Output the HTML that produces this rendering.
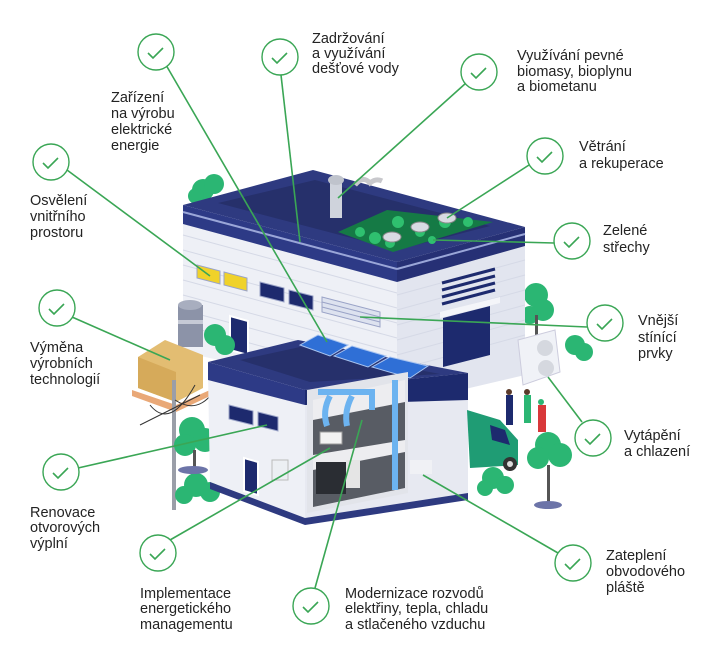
<!DOCTYPE html>
<html><head><meta charset="utf-8"><style>
html,body{margin:0;padding:0;background:#fff;}
svg{display:block;}
text{font-family:"Liberation Sans",sans-serif;font-size:14.5px;fill:#232323;}
</style></head><body>
<svg width="718" height="661" viewBox="0 0 718 661" xmlns="http://www.w3.org/2000/svg">
<g fill="#2bb673">
<circle cx="203" cy="190" r="11"/><circle cx="214" cy="184" r="10"/><circle cx="196" cy="196" r="8"/>
<circle cx="536" cy="295" r="12"/><circle cx="543" cy="310" r="11"/><circle cx="530" cy="315" r="9"/>
<circle cx="575" cy="345" r="10"/><circle cx="584" cy="352" r="9"/>
</g>
<rect x="535" y="315" width="3" height="20" fill="#555"/>
<polygon points="183,222 397,280 397,400 183,352" fill="#eef0f6"/>
<polygon points="397,280 525,245 525,375 397,405" fill="#e2e5ef"/>
<g stroke="#d5d9e6" stroke-width="1">
<line x1="183" y1="235" x2="397" y2="293"/><line x1="183" y1="250" x2="397" y2="308"/><line x1="183" y1="265" x2="397" y2="323"/><line x1="183" y1="280" x2="397" y2="338"/><line x1="183" y1="295" x2="397" y2="353"/><line x1="183" y1="310" x2="397" y2="368"/><line x1="183" y1="325" x2="397" y2="383"/>
<line x1="397" y1="295" x2="525" y2="260"/><line x1="397" y1="310" x2="525" y2="275"/><line x1="397" y1="325" x2="525" y2="290"/><line x1="397" y1="340" x2="525" y2="305"/><line x1="397" y1="355" x2="525" y2="320"/><line x1="397" y1="370" x2="525" y2="335"/>
</g>
<polygon points="183,205 313,170 525,227 397,262" fill="#2e3a80"/>
<polygon points="218,203 315,180 490,226 397,250" fill="#26306b"/>
<polygon points="183,205 397,262 397,282 183,224" fill="#2d3a86"/>
<polygon points="397,262 525,227 525,246 397,282" fill="#263075"/>
<line x1="183" y1="212" x2="397" y2="269" stroke="#9aa6d8" stroke-width="2"/>
<line x1="397" y1="269" x2="525" y2="234" stroke="#9aa6d8" stroke-width="2"/>
<polygon points="338,232 387,210 493,222 393,252" fill="#157a45"/>
<g fill="#2fc06f"><circle cx="360" cy="232" r="5"/><circle cx="375" cy="238" r="6"/><circle cx="398" cy="222" r="6"/><circle cx="420" cy="232" r="5"/><circle cx="445" cy="222" r="6"/><circle cx="468" cy="222" r="5"/><circle cx="390" cy="243" r="5"/><circle cx="432" cy="240" r="4"/></g>
<g fill="#d8dbe2" stroke="#888" stroke-width="1"><ellipse cx="392" cy="237" rx="9" ry="5"/><ellipse cx="420" cy="227" rx="9" ry="5"/><ellipse cx="447" cy="218" rx="9" ry="5"/></g>
<rect x="330" y="182" width="12" height="36" fill="#cfd3dc"/><ellipse cx="336" cy="180" rx="8" ry="5" fill="#bfc3cc"/>
<path d="M355 185 q8 -10 15 -2 q6 -5 12 -2" stroke="#c8c8cc" stroke-width="5" fill="none"/>
<polygon points="197,265 220,271 220,284 197,278" fill="#f0d22a" stroke="#9aa3c7"/>
<polygon points="224,272 247,278 247,291 224,285" fill="#f0d22a" stroke="#9aa3c7"/>
<polygon points="260,282 284,288 284,302 260,296" fill="#1d2a6e" stroke="#9aa3c7"/>
<polygon points="289,290 313,296 313,310 289,304" fill="#1d2a6e" stroke="#9aa3c7"/>
<polygon points="322,297 380,312 380,327 322,312" fill="#dde2ef" stroke="#9aa3c7"/>
<g stroke="#9aa3c7"><line x1="322" y1="302" x2="380" y2="317"/><line x1="322" y1="307" x2="380" y2="322"/></g>
<polygon points="230,316 248,321 248,355 230,350" fill="#1d2a6e" stroke="#fff" stroke-width="2"/>
<g stroke="#1d2a6e" stroke-width="3"><line x1="442" y1="283" x2="495" y2="269"/><line x1="442" y1="290" x2="495" y2="276"/><line x1="442" y1="297" x2="495" y2="283"/><line x1="442" y1="304" x2="495" y2="290"/></g>
<polygon points="440,312 500,297 500,303 440,318" fill="#f4f5f9"/>
<polygon points="443,318 490,306 490,355 443,367" fill="#1d2a6e"/>
<rect x="178" y="305" width="25" height="42" fill="#8c93a8"/><ellipse cx="190" cy="305" rx="12" ry="5" fill="#a8aebf"/>
<rect x="178" y="320" width="25" height="4" fill="#c6cad6"/>
<polygon points="138,357 165,340 203,355 203,388 176,402 138,388" fill="#e3bd72"/>
<polygon points="138,357 176,372 176,402 138,388" fill="#d6aa5a"/>
<polygon points="132,390 176,405 210,390 210,396 176,412 132,396" fill="#e9a877"/>
<rect x="172" y="380" width="4" height="130" fill="#9a9ea8"/>
<g stroke="#333" fill="none" stroke-width="1"><path d="M175 400 q30 20 50 -30"/><path d="M150 405 q20 25 45 -20"/><line x1="140" y1="425" x2="200" y2="395"/></g>
<g fill="#2bb673"><circle cx="215" cy="335" r="11"/><circle cx="225" cy="345" r="10"/><circle cx="192" cy="430" r="13"/><circle cx="205" cy="440" r="12"/><circle cx="185" cy="445" r="11"/><circle cx="196" cy="485" r="12"/><circle cx="210" cy="492" r="10"/><circle cx="184" cy="495" r="9"/></g>
<rect x="193" y="450" width="3" height="20" fill="#555"/>
<ellipse cx="193" cy="470" rx="15" ry="4" fill="#6c74a8"/>
<polygon points="208,375 305,400 305,518 210,482" fill="#eef0f6"/>
<polygon points="305,400 468,385 468,493 305,518" fill="#e7e9f1"/>
<polygon points="210,482 305,518 468,493 468,500 305,525 210,489" fill="#2e3a80"/>
<polygon points="208,362 298,340 468,373 305,390" fill="#2e3a80"/>
<polygon points="240,360 300,347 440,374 310,382" fill="#26306b"/>
<polygon points="208,362 305,390 305,405 208,380" fill="#2d3a86"/>
<polygon points="305,390 468,373 468,400 305,405" fill="#1d2a6e"/>
<g fill="#2f6fd6" stroke="#a8c4f0" stroke-width="1">
<polygon points="300,345 318,335 348,345 330,356"/>
<polygon points="334,356 352,346 386,356 368,367"/>
<polygon points="372,367 390,357 428,366 410,378"/>
</g>
<polygon points="229,405 253,411 253,425 229,419" fill="#1d2a6e" stroke="#9aa3c7"/>
<polygon points="258,412 278,417 278,431 258,426" fill="#1d2a6e" stroke="#9aa3c7"/>
<polygon points="244,458 258,462 258,495 244,491" fill="#1d2a6e" stroke="#fff" stroke-width="2"/>
<rect x="272" y="460" width="16" height="20" fill="#eceff3" stroke="#bbb"/>
<polygon points="307,390 408,372 408,493 307,513" fill="#e2e4ea"/>
<polygon points="313,400 405,380 405,488 313,507" fill="#ededf0"/>
<polygon points="313,420 405,402 405,440 313,455" fill="#585c64"/>
<polygon points="313,470 405,452 405,488 313,507" fill="#585c64"/>
<g stroke="#6cb3f0" stroke-width="6" fill="none"><path d="M318 392 L372 392 L372 410"/><path d="M330 396 q-8 15 -3 30"/><path d="M352 396 q-8 15 -5 30"/><line x1="395" y1="380" x2="395" y2="490"/></g>
<rect x="320" y="432" width="22" height="12" fill="#f2f2f2" stroke="#999"/>
<rect x="316" y="462" width="30" height="32" fill="#2a2d33"/><rect x="346" y="460" width="14" height="28" fill="#e5e5e5"/>
<rect x="410" y="460" width="22" height="14" fill="#f0f1f5"/>
<polygon points="518,340 555,330 560,372 523,385" fill="#f0f2f7" stroke="#ccd"/>
<circle cx="545" cy="348" r="8" fill="#d5d8df"/><circle cx="546" cy="368" r="8" fill="#d5d8df"/>
<path d="M467 410 L500 420 L518 440 L518 465 L470 468 Z" fill="#1f9c74"/>
<circle cx="510" cy="464" r="7" fill="#333"/><circle cx="510" cy="464" r="3" fill="#ddd"/>
<polygon points="490,425 505,430 510,445 492,440" fill="#1d2a6e"/>
<rect x="506" y="395" width="7" height="30" fill="#1d2a6e"/><circle cx="509" cy="392" r="3" fill="#5a3a2a"/>
<rect x="524" y="395" width="7" height="28" fill="#2bb673"/><circle cx="527" cy="392" r="3" fill="#5a3a2a"/>
<rect x="538" y="405" width="8" height="27" fill="#d8383a"/><circle cx="541" cy="402" r="3" fill="#2bb673"/>
<g fill="#2bb673"><circle cx="548" cy="445" r="13"/><circle cx="560" cy="455" r="12"/><circle cx="538" cy="458" r="11"/><circle cx="493" cy="478" r="11"/><circle cx="505" cy="485" r="9"/><circle cx="485" cy="488" r="8"/></g>
<rect x="547" y="465" width="3" height="40" fill="#555"/>
<ellipse cx="548" cy="505" rx="14" ry="4" fill="#6c74a8"/>
<g stroke="#3aa655" stroke-width="1.6" fill="none">
<line x1="166" y1="65" x2="327" y2="342"/>
<line x1="281" y1="75" x2="300" y2="242"/>
<line x1="67" y1="170" x2="210" y2="276"/>
<line x1="466" y1="83" x2="338" y2="198"/>
<line x1="529" y1="165" x2="447" y2="218"/>
<line x1="554" y1="243" x2="433" y2="240"/>
<line x1="587" y1="327" x2="360" y2="317"/>
<line x1="582" y1="422" x2="548" y2="377"/>
<line x1="558" y1="553" x2="423" y2="475"/>
<line x1="315" y1="588" x2="362" y2="420"/>
<line x1="170" y1="540" x2="330" y2="448"/>
<line x1="78" y1="468" x2="267" y2="425"/>
<line x1="72" y1="317" x2="170" y2="360"/>
</g>
<g stroke="#3aa655" stroke-width="1.4" fill="#fff">
<circle cx="156" cy="52" r="18"/><circle cx="280" cy="57" r="18"/><circle cx="51" cy="162" r="18"/><circle cx="57" cy="308" r="18"/>
<circle cx="479" cy="72" r="18"/><circle cx="545" cy="156" r="18"/><circle cx="572" cy="241" r="18"/><circle cx="605" cy="323" r="18"/>
<circle cx="593" cy="438" r="18"/><circle cx="61" cy="472" r="18"/><circle cx="158" cy="553" r="18"/><circle cx="311" cy="606" r="18"/><circle cx="573" cy="563" r="18"/>
</g>
<g stroke="#3aa655" stroke-width="1.6" fill="none">
<path d="M148 53 l5 5 l10 -10"/><path d="M272 58 l5 5 l10 -10"/><path d="M43 163 l5 5 l10 -10"/><path d="M49 309 l5 5 l10 -10"/>
<path d="M471 73 l5 5 l10 -10"/><path d="M537 157 l5 5 l10 -10"/><path d="M564 242 l5 5 l10 -10"/><path d="M597 324 l5 5 l10 -10"/>
<path d="M585 439 l5 5 l10 -10"/><path d="M53 473 l5 5 l10 -10"/><path d="M150 554 l5 5 l10 -10"/><path d="M303 607 l5 5 l10 -10"/><path d="M565 564 l5 5 l10 -10"/>
</g>
<text><tspan x="111" y="102">Zařízení</tspan><tspan x="111" y="118">na výrobu</tspan><tspan x="111" y="134">elektrické</tspan><tspan x="111" y="150">energie</tspan></text>
<text><tspan x="312" y="43">Zadržování</tspan><tspan x="312" y="58">a využívání</tspan><tspan x="312" y="73">dešťové vody</tspan></text>
<text><tspan x="517" y="60">Využívání pevné</tspan><tspan x="517" y="76">biomasy, bioplynu</tspan><tspan x="517" y="91">a biometanu</tspan></text>
<text><tspan x="579" y="151">Větrání</tspan><tspan x="579" y="168">a rekuperace</tspan></text>
<text><tspan x="603" y="235">Zelené</tspan><tspan x="603" y="252">střechy</tspan></text>
<text><tspan x="638" y="325">Vnější</tspan><tspan x="638" y="342">stínící</tspan><tspan x="638" y="358">prvky</tspan></text>
<text><tspan x="30" y="205">Osvělení</tspan><tspan x="30" y="221">vnitřního</tspan><tspan x="30" y="237">prostoru</tspan></text>
<text><tspan x="30" y="352">Výměna</tspan><tspan x="30" y="368">výrobních</tspan><tspan x="30" y="384">technologií</tspan></text>
<text><tspan x="624" y="440">Vytápění</tspan><tspan x="624" y="456">a chlazení</tspan></text>
<text><tspan x="30" y="517">Renovace</tspan><tspan x="30" y="532">otvorových</tspan><tspan x="30" y="548">výplní</tspan></text>
<text><tspan x="140" y="598">Implementace</tspan><tspan x="140" y="613">energetického</tspan><tspan x="140" y="629">managementu</tspan></text>
<text><tspan x="345" y="598">Modernizace rozvodů</tspan><tspan x="345" y="613">elektřiny, tepla, chladu</tspan><tspan x="345" y="629">a stlačeného vzduchu</tspan></text>
<text><tspan x="606" y="560">Zateplení</tspan><tspan x="606" y="576">obvodového</tspan><tspan x="606" y="592">pláště</tspan></text>
</svg>
</body></html>
